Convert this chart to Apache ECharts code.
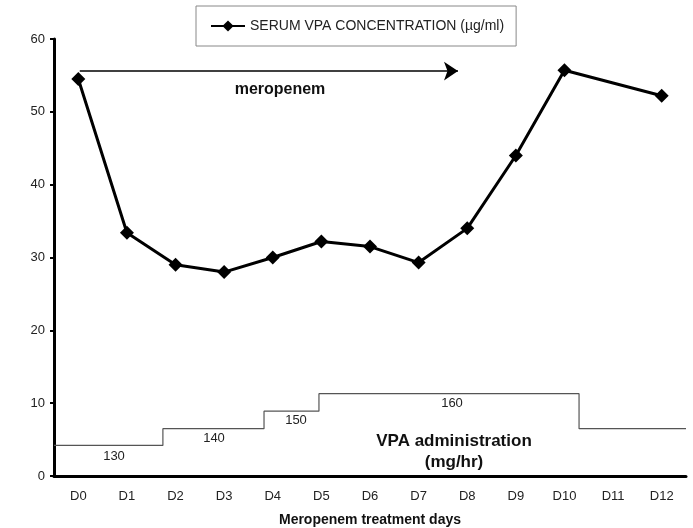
<!DOCTYPE html>
<html>
<head>
<meta charset="utf-8">
<script src="https://cdn.jsdelivr.net/npm/echarts@6/dist/echarts.min.js"></script>
<style>
  html, body { margin: 0; padding: 0; background: #fff; }
  #chart { width: 693px; height: 528px; }
</style>
</head>
<body>
<div id="chart"></div>
<script>
const days = ["D0", "D1", "D2", "D3", "D4", "D5", "D6", "D7", "D8", "D9", "D10", "D11", "D12"];
const vpaConc = [54.5, 33.4, 29.0, 28.0, 30.0, 32.2, 31.5, 29.3, 34.0, 44.0, 55.7, null, 52.2];
// dose steps, x in day units from the left edge of the axis
const doseX = [0, 2.24, 4.32, 5.45, 10.8, 13];
const doseLevel = [4.2, 6.5, 8.9, 11.3, 6.5, 6.5];
const doseLabels = ["130", "140", "150", "160"];
const yTicks = [0, 10, 20, 30, 40, 50, 60];

const font = "Liberation Sans, Arial, sans-serif";
const chart = echarts.init(document.getElementById("chart"));

chart.setOption({
  animation: false,
  textStyle: { fontFamily: font },
  grid: { left: 54, right: 7, top: 39, bottom: 52, containLabel: false, outerBoundsMode: "none" },
  legend: {
    data: ["SERUM VPA CONCENTRATION (µg/ml)"],
    left: 196,
    top: 6,
    padding: [13, 12, 13, 14],
    itemWidth: 34,
    itemHeight: 14,
    itemGap: 2,
    borderColor: "#888",
    borderWidth: 1,
    selectedMode: false,
    textStyle: { color: "#222", fontSize: 14, fontFamily: font },
  },
  xAxis: [
    {
      type: "category",
      data: days,
      boundaryGap: true,
      name: "Meropenem treatment days",
      nameLocation: "middle",
      nameGap: 37,
      nameTextStyle: { fontWeight: "bold", fontSize: 14, color: "#111" },
      axisLine: { lineStyle: { color: "#000", width: 3 } },
      axisTick: { length: 4, lineStyle: { width: 2, color: "#000" } },
      axisLabel: { color: "#222", fontSize: 13, margin: 14 },
    },
    {
      type: "value",
      min: 0,
      max: 13,
      show: false,
    },
  ],
  yAxis: {
    type: "value",
    min: yTicks[0],
    max: yTicks[yTicks.length - 1],
    interval: 10,
    axisLine: { show: true, lineStyle: { color: "#000", width: 3 } },
    axisTick: { show: true, length: 4, lineStyle: { width: 2, color: "#000" } },
    axisLabel: { color: "#222", fontSize: 13, margin: 9 },
    splitLine: { show: false },
  },
  series: [
    {
      name: "SERUM VPA CONCENTRATION (µg/ml)",
      type: "line",
      data: vpaConc,
      connectNulls: true,
      symbol: "diamond",
      symbolSize: 14,
      lineStyle: { color: "#000", width: 3 },
      itemStyle: { color: "#000" },
      z: 5,
    },
    {
      name: "dose",
      type: "line",
      xAxisIndex: 1,
      step: "end",
      data: doseX.map((x, i) => [x, doseLevel[i]]),
      showSymbol: false,
      symbol: "none",
      lineStyle: { color: "#555", width: 1.2 },
      silent: true,
      markLine: {
        silent: true,
        symbol: ["none", "arrow"],
        symbolSize: [14, 14],
        lineStyle: { color: "#000", width: 1.5, type: "solid" },
        label: { show: false },
        data: [[{ coord: [0.53, 55.6] }, { coord: [8.31, 55.6] }]],
      },
    },
  ],
  graphic: [
    { type: "text", x: 280, y: 90, style: { text: "meropenem", font: "bold 16px " + font, fill: "#111", align: "center", verticalAlign: "middle" } },
    { type: "text", x: 114, y: 456, style: { text: doseLabels[0], font: "13px " + font, fill: "#222", align: "center", verticalAlign: "middle" } },
    { type: "text", x: 214, y: 438, style: { text: doseLabels[1], font: "13px " + font, fill: "#222", align: "center", verticalAlign: "middle" } },
    { type: "text", x: 296, y: 420, style: { text: doseLabels[2], font: "13px " + font, fill: "#222", align: "center", verticalAlign: "middle" } },
    { type: "text", x: 452, y: 403, style: { text: doseLabels[3], font: "13px " + font, fill: "#222", align: "center", verticalAlign: "middle" } },
    { type: "text", x: 454, y: 441, style: { text: "VPA administration", font: "bold 17px " + font, fill: "#111", align: "center", verticalAlign: "middle" } },
    { type: "text", x: 454, y: 462, style: { text: "(mg/hr)", font: "bold 17px " + font, fill: "#111", align: "center", verticalAlign: "middle" } },
  ],
});
window.addEventListener("resize", () => {
  chart.resize();
});
</script>
</body>
</html>
